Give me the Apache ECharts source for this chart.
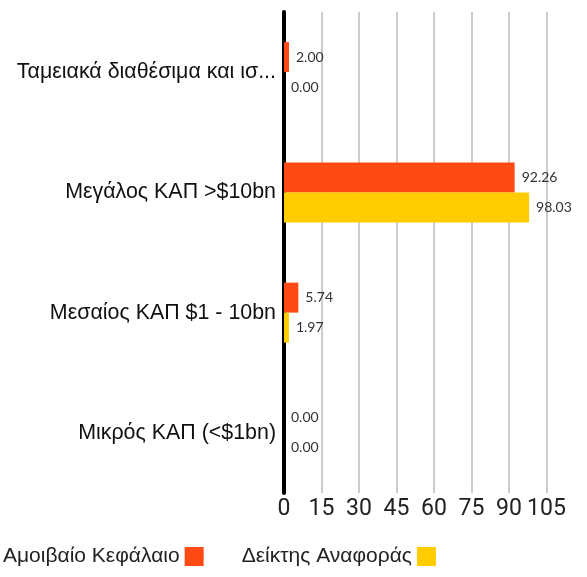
<!DOCTYPE html>
<html><head><meta charset="utf-8">
<script src="https://cdn.jsdelivr.net/npm/echarts@6/dist/echarts.min.js"></script>
<style>html,body{margin:0;padding:0;background:#fff}#c{width:587px;height:577px}</style>
</head><body><div id="c"></div>
<script>
const categories = ["Ταμειακά διαθέσιμα και ισ...", "Μεγάλος ΚΑΠ >$10bn", "Μεσαίος ΚΑΠ $1 - 10bn", "Μικρός ΚΑΠ (<$1bn)"];
const seriesNames = ["Αμοιβαίο Κεφάλαιο", "Δείκτης Αναφοράς"];
const fundValues = [2.00, 92.26, 5.74, 0.00];
const benchValues = [0.00, 98.03, 1.97, 0.00];
const colors = ["#FF4A14", "#FFCC00"];

const chart = echarts.init(document.getElementById('c'), null, {renderer: 'canvas'});
const labelStyle = {show: true, position: 'right', distance: 7, fontFamily: 'Lato', fontSize: 14, color: '#333', formatter: p => p.value.toFixed(2)};
chart.setOption({
  animation: false,
  grid: {left: 284, right: 40.5, top: 12, bottom: 84, containLabel: false},
  legend: {
    bottom: 10, left: 3, padding: 0, align: 'right', itemWidth: 19, itemHeight: 19, itemGap: 38,
    icon: 'rect',
    textStyle: {fontFamily: 'Liberation Sans', fontSize: 21, color: '#222', padding: [0, 0, 0, 0]},
    data: seriesNames
  },
  xAxis: {
    type: 'value', min: 0, max: 105, interval: 15,
    axisLine: {show: false}, axisTick: {show: false},
    splitLine: {show: true, lineStyle: {color: '#cccccc', width: 2}},
    axisLabel: {fontFamily: 'Roboto', fontSize: 23, color: '#222', margin: 5}
  },
  yAxis: {
    type: 'category', data: categories, inverse: true,
    axisLine: {show: true, lineStyle: {color: '#000', width: 4}},
    axisTick: {show: false},
    axisLabel: {fontFamily: 'Liberation Sans', fontSize: 21.4, color: '#111', margin: 8}
  },
  series: [
    {name: seriesNames[0], type: 'bar', data: fundValues, barWidth: 30, barGap: '0%', itemStyle: {color: colors[0]}, label: labelStyle},
    {name: seriesNames[1], type: 'bar', data: benchValues, barWidth: 30, barGap: '0%', itemStyle: {color: colors[1]}, label: labelStyle}
  ]
});
</script></body></html>
